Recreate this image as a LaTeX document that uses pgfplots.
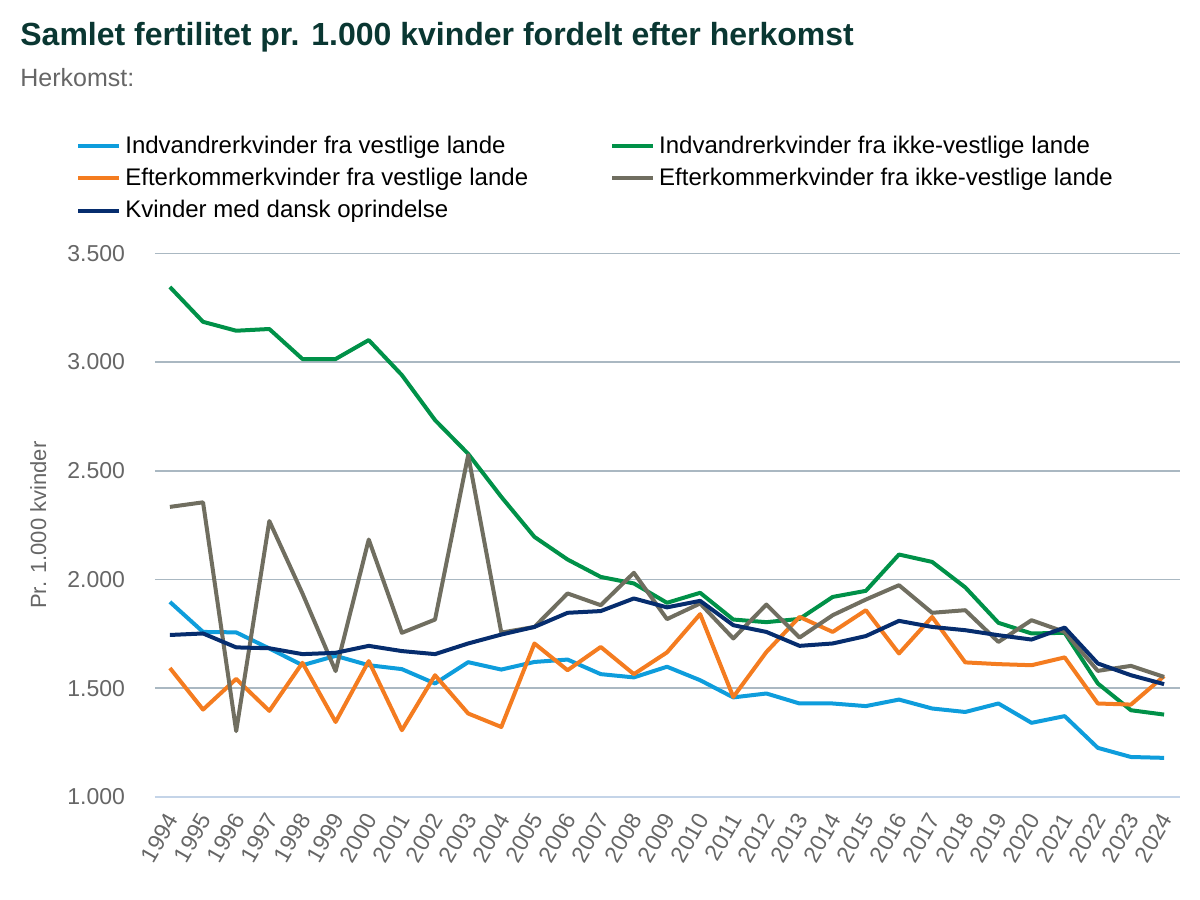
\documentclass[border=0pt]{standalone}
\usepackage{pgfplots}
\pgfplotsset{compat=1.18}
\usepackage{pgfplotstable}
\usepackage{fontspec}
\setmainfont{Liberation Sans}

\definecolor{ivest}{RGB}{14,157,220}
\definecolor{ikke}{RGB}{0,145,72}
\definecolor{evest}{RGB}{244,124,32}
\definecolor{eikke}{RGB}{112,110,96}
\definecolor{dansk}{RGB}{6,45,110}
\definecolor{titlecol}{RGB}{10,55,50}
\definecolor{txtgray}{RGB}{102,102,102}
\definecolor{gridcol}{RGB}{170,184,194}
\definecolor{basecol}{RGB}{196,212,232}

% year, indvandrer vestlig, indvandrer ikke-vestlig, efterkommer vestlig, efterkommer ikke-vestlig, dansk
\pgfplotstableread{
year ivest ikke evest eikke dansk
1994 1897 3345 1593 2334 1745
1995 1759 3185 1402 2355 1752
1996 1757 3144 1543 1303 1688
1997 1683 3152 1396 2269 1684
1998 1606 3014 1617 1936 1657
1999 1649 3014 1345 1579 1663
2000 1606 3101 1625 2184 1695
2001 1588 2940 1307 1755 1671
2002 1522 2733 1560 1816 1657
2003 1620 2578 1384 2572 1706
2004 1586 2380 1322 1756 1747
2005 1621 2196 1706 1782 1782
2006 1632 2092 1583 1936 1847
2007 1565 2012 1690 1882 1855
2008 1550 1982 1565 2031 1913
2009 1599 1893 1665 1818 1872
2010 1537 1939 1841 1890 1902
2011 1458 1816 1460 1729 1790
2012 1476 1804 1667 1885 1759
2013 1430 1819 1828 1733 1695
2014 1430 1920 1759 1836 1706
2015 1418 1948 1859 1908 1740
2016 1448 2115 1660 1974 1810
2017 1407 2081 1828 1847 1782
2018 1391 1964 1619 1859 1767
2019 1430 1801 1611 1713 1744
2020 1341 1752 1606 1813 1724
2021 1372 1755 1642 1759 1779
2022 1226 1522 1430 1580 1614
2023 1184 1399 1425 1603 1560
2024 1180 1379 1556 1552 1519
}\fert

\begin{document}
\begin{tikzpicture}
\useasboundingbox (0pt,0pt) rectangle (600pt,-450pt);
\node[anchor=base west, inner sep=0pt, text=titlecol, font=\fontsize{16}{19}\selectfont\bfseries] at (10pt,-22.5pt)
  {Samlet fertilitet pr. 1.000 kvinder fordelt efter herkomst};
\node[anchor=base west, inner sep=0pt, text=txtgray, font=\fontsize{12.5}{15}\selectfont] at (10pt,-43pt) {Herkomst:};
\begin{axis}[
    at={(77.5pt,-398.5pt)}, anchor=south west,
    scale only axis,
    width=512.5pt, height=271.85pt,
    xmin=1993.55, xmax=2024.48,
    ymin=1000, ymax=3500,
    xtick={1994,...,2024},
    ytick={1000,1500,...,3500},
    axis line style={draw=none},
    ymajorgrids=true,
    grid style={gridcol, line width=0.8pt},
    major tick length=0pt,
    tick label style={font=\fontsize{11.5}{14}\selectfont, text=txtgray},
    /pgf/number format/assume math mode=true,
    /pgf/number format/1000 sep={.},
    x tick label style={/pgf/number format/1000 sep={}, xshift=3pt, yshift=-6.3pt, rotate=60, anchor=east},
    y tick label style={xshift=-11.5pt},
    ylabel={Pr. 1.000 kvinder},
    every axis y label/.style={at={(axis description cs:-0.114,0.5)}, rotate=90, anchor=center,
        font=\fontsize{11}{13}\selectfont, text=txtgray},
    legend columns=2,
    legend cell align=left,
    legend style={
        at={(axis description cs:-0.083,1.2317)}, anchor=north west,
        draw=none, fill=none,
        font=\fontsize{12}{14}\selectfont,
        row sep=2pt,
        /tikz/every even column/.append style={column sep=39pt},
    },
    legend image code/.code={\draw[#1, line width=2pt] (0pt,0pt) -- (16pt,0pt);
        \path (0pt,0pt) -- (20.5pt,0pt);},
    every axis plot/.append style={line width=2pt, line join=round, mark=none},
]
\draw[basecol, line width=1pt] (axis cs:1993.55,1000) -- (axis cs:2024.48,1000);
\addplot[ivest] table[x=year, y=ivest] {\fert};
\addlegendentry{Indvandrerkvinder fra vestlige lande}
\addplot[ikke] table[x=year, y=ikke] {\fert};
\addlegendentry{Indvandrerkvinder fra ikke-vestlige lande}
\addplot[evest] table[x=year, y=evest] {\fert};
\addlegendentry{Efterkommerkvinder fra vestlige lande}
\addplot[eikke] table[x=year, y=eikke] {\fert};
\addlegendentry{Efterkommerkvinder fra ikke-vestlige lande}
\addplot[dansk] table[x=year, y=dansk] {\fert};
\addlegendentry{Kvinder med dansk oprindelse}
\end{axis}
\end{tikzpicture}
\end{document}
